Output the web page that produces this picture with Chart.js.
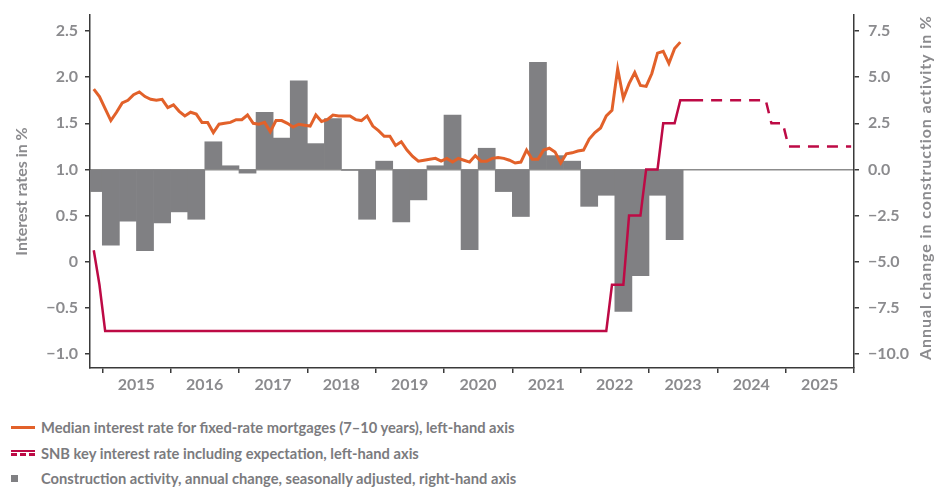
<!DOCTYPE html>
<html>
<head>
<meta charset="utf-8">
<title>Mortgage rates, SNB key rate and construction activity</title>
<script src="https://cdn.jsdelivr.net/npm/chart.js@4.4.0/dist/chart.umd.min.js"></script>
<style>
  html, body { margin: 0; padding: 0; background: #fff; }
  body { width: 947px; height: 488px; overflow: hidden; position: relative; font-family: Lato, sans-serif; }
  #chartBox { position: absolute; left: 0; top: 0; width: 947px; height: 400px; }
  .legend-row { position: absolute; left: 11px; height: 20px; display: flex; align-items: center;
                color: #7b7b7e; font-size: 14.7px; font-weight: 700; white-space: nowrap; }
  .icon { display: inline-block; width: 24px; margin-right: 6px; position: relative; }
  .icon-line { height: 3px; background: #e2612a; }
  .icon-snb { height: 7px; border-top: 2.5px solid #bd0a45; box-sizing: border-box; }
  .icon-snb::after { content: ""; position: absolute; left: 0; right: 0; top: 1.5px; height: 3px;
                     background: repeating-linear-gradient(to right, #bd0a45 0 6px, transparent 6px 9px); }
  .icon-square { width: 7px; height: 7px; background: #808083; margin-right: 23px; }
</style>
</head>
<body>
<div id="chartBox"><canvas id="mainChart" width="947" height="400"></canvas></div>
<div id="legend">
  <div class="legend-row" style="top:417px"><span class="icon icon-line"></span><span>Median interest rate for fixed-rate mortgages (7–10 years), left-hand axis</span></div>
  <div class="legend-row" style="top:443px"><span class="icon icon-snb"></span><span>SNB key interest rate including expectation, left-hand axis</span></div>
  <div class="legend-row" style="top:468px"><span class="icon icon-square"></span><span>Construction activity, annual change, seasonally adjusted, right-hand axis</span></div>
</div>
<script>
// Mortgage rate (monthly, left axis), first value = Nov 2014
const mortgageStart = '2014-11';
const mortgageRate = [
  1.87, 1.79, 1.66, 1.53, 1.62, 1.72, 1.75, 1.81, 1.84, 1.79, 1.76, 1.75,
  1.76, 1.67, 1.70, 1.63, 1.58, 1.62, 1.60, 1.51, 1.51, 1.40, 1.49, 1.50,
  1.51, 1.54, 1.54, 1.59, 1.50, 1.49, 1.51, 1.41, 1.53, 1.53, 1.50, 1.46,
  1.49, 1.48, 1.47, 1.59, 1.52, 1.54, 1.59, 1.58, 1.58, 1.58, 1.54, 1.53,
  1.58, 1.47, 1.42, 1.36, 1.36, 1.26, 1.30, 1.21, 1.14, 1.09, 1.10, 1.11,
  1.12, 1.09, 1.12, 1.08, 1.12, 1.10, 1.08, 1.15, 1.09, 1.09, 1.12, 1.13,
  1.12, 1.10, 1.07, 1.08, 1.21, 1.11, 1.11, 1.21, 1.23, 1.19, 1.07, 1.17,
  1.18, 1.20, 1.21, 1.33, 1.40, 1.45, 1.58, 1.64, 2.09, 1.77, 1.93, 2.05,
  1.91, 1.90, 2.04, 2.26, 2.28, 2.15, 2.31, 2.38
];

// SNB key rate (left axis): actual values at change points
const snbDates = ['2014-11', '2014-12', '2015-01', '2022-05', '2022-06', '2022-08', '2022-09',
                  '2022-11', '2022-12', '2023-02', '2023-03', '2023-05', '2023-06', '2023-10'];
const snbRate = [0.125, -0.25, -0.75, -0.75, -0.25, -0.25, 0.5, 0.5, 1.0, 1.0, 1.5, 1.5, 1.75, 1.75];

// SNB key rate expectation (dashed)
const snbExpDates = ['2023-10', '2024-09', '2024-10', '2024-12', '2025-01', '2025-12'];
const snbExpRate = [1.75, 1.75, 1.5, 1.5, 1.25, 1.25];

// Construction activity, annual change in % (quarterly, right axis)
const constructionQuarters = [
  '2014-Q4',
  '2015-Q1', '2015-Q2', '2015-Q3', '2015-Q4',
  '2016-Q1', '2016-Q2', '2016-Q3', '2016-Q4',
  '2017-Q1', '2017-Q2', '2017-Q3', '2017-Q4',
  '2018-Q1', '2018-Q2', '2018-Q3', '2018-Q4',
  '2019-Q1', '2019-Q2', '2019-Q3', '2019-Q4',
  '2020-Q1', '2020-Q2', '2020-Q3', '2020-Q4',
  '2021-Q1', '2021-Q2', '2021-Q3', '2021-Q4',
  '2022-Q1', '2022-Q2', '2022-Q3', '2022-Q4',
  '2023-Q1', '2023-Q2'
];
const constructionChange = [
  -1.2,
  -4.1, -2.8, -4.4, -2.9,
  -2.3, -2.7, 1.5, 0.2,
  -0.2, 3.1, 1.7, 4.8,
  1.4, 2.75, -0.05, -2.7,
  0.45, -2.85, -1.65, 0.2,
  2.95, -4.35, 1.15, -1.2,
  -2.55, 5.8, 0.75, 0.45,
  -2.0, -1.4, -7.7, -5.75,
  -1.4, -3.8
];

// Axis ticks
const yearTicks = [2015, 2016, 2017, 2018, 2019, 2020, 2021, 2022, 2023, 2024, 2025, 2026];
const leftTicks = [-1.0, -0.5, 0, 0.5, 1.0, 1.5, 2.0, 2.5];
const rightTicks = [-10.0, -7.5, -5.0, -2.5, 0, 2.5, 5.0, 7.5];

const ORANGE = '#e2612a';
const CRIMSON = '#bd0a45';
const BAR_GRAY = '#808083';
const TEXT_GRAY = '#8b8b8e';
const AXIS_DARK = '#3a3a3a';

document.addEventListener('DOMContentLoaded', function() {
  // month 'YYYY-MM' -> decimal year (mid month)
  function monthToX(s) {
    const parts = s.split('-');
    return Number(parts[0]) + (Number(parts[1]) - 0.5) / 12;
  }

  // quarter 'YYYY-Qn' -> decimal year (mid quarter)
  function quarterToX(s) {
    const parts = s.split('-Q');
    return Number(parts[0]) + (Number(parts[1]) - 0.5) / 4;
  }

  function fmtNum(v, digits) {
    const txt = Math.abs(v).toFixed(digits);
    return v < 0 ? '\u2212' + txt : txt;
  }

  // keep the plot area fixed: no extra label padding above/below the y axes
  function fixVertical(width) {
    return function(scale) {
      scale.width = width;
      scale.paddingTop = 0;
      scale.paddingBottom = 0;
    };
  }

  const startX = monthToX(mortgageStart);
  const mortgagePoints = mortgageRate.map((v, i) => ({ x: startX + i / 12, y: v }));
  const snbPoints = snbDates.map((d, i) => ({ x: monthToX(d), y: snbRate[i] }));
  const snbExpPoints = snbExpDates.map((d, i) => ({ x: monthToX(d), y: snbExpRate[i] }));
  const barPoints = constructionQuarters.map((q, i) => ({ x: quarterToX(q), y: constructionChange[i] }));

  const tickFont = { family: 'Lato, sans-serif', size: 16, weight: '700' };
  const titleFont = { family: 'Lato, sans-serif', size: 16, weight: '700' };

  // right axis title reads bottom-to-top like the left one
  const rightTitlePlugin = {
    id: 'rightTitle',
    afterDraw(chart) {
      const area = chart.chartArea;
      const c = chart.ctx;
      c.save();
      c.translate(926, (area.top + area.bottom) / 2 - 4);
      c.rotate(-Math.PI / 2);
      c.fillStyle = TEXT_GRAY;
      c.font = '700 16px Lato, sans-serif';
      if ('letterSpacing' in c) c.letterSpacing = '0.9px';
      c.textAlign = 'center';
      c.textBaseline = 'middle';
      c.fillText('Annual change in construction activity in %', 0, 0);
      c.restore();
    }
  };

  const ctx = document.getElementById('mainChart').getContext('2d');
  new Chart(ctx, {
    data: {
      datasets: [
        {
          type: 'line',
          label: 'Median interest rate for fixed-rate mortgages (7–10 years), left-hand axis',
          data: mortgagePoints,
          borderColor: ORANGE,
          borderWidth: 3,
          pointRadius: 0,
          tension: 0,
          yAxisID: 'y',
          order: 1
        },
        {
          type: 'line',
          label: 'SNB key interest rate, left-hand axis',
          data: snbPoints,
          borderColor: CRIMSON,
          borderWidth: 2.5,
          pointRadius: 0,
          yAxisID: 'y',
          order: 2
        },
        {
          type: 'line',
          label: 'SNB key interest rate expectation',
          data: snbExpPoints,
          borderColor: CRIMSON,
          borderWidth: 2.5,
          borderDash: [11, 8],
          borderDashOffset: 11,
          pointRadius: 0,
          yAxisID: 'y',
          order: 3
        },
        {
          type: 'bar',
          label: 'Construction activity, annual change, seasonally adjusted, right-hand axis',
          data: barPoints,
          backgroundColor: BAR_GRAY,
          borderWidth: 0,
          barPercentage: 1,
          categoryPercentage: 1,
          yAxisID: 'y2',
          order: 10
        }
      ]
    },
    options: {
      responsive: false,
      animation: false,
      layout: { padding: { top: 15, left: 0, right: 0, bottom: 0 } },
      plugins: {
        legend: { display: false },
        tooltip: { enabled: false }
      },
      scales: {
        x: {
          type: 'linear',
          offset: false,
          min: 2014.82,
          max: 2026,
          border: { color: AXIS_DARK, width: 1.5 },
          grid: { offset: false, drawOnChartArea: false, tickColor: AXIS_DARK, tickLength: 5, lineWidth: 1.5 },
          afterBuildTicks: function(scale) {
            scale.ticks = yearTicks.map(v => ({ value: v }));
          },
          ticks: {
            autoSkip: false,
            maxRotation: 0,
            labelOffset: 34,
            padding: 2,
            color: TEXT_GRAY,
            font: tickFont,
            callback: function(value) {
              return value < 2026 ? String(value) : '';
            }
          },
          afterFit: function(scale) { scale.height = 32; }
        },
        y: {
          position: 'left',
          min: -1.152,
          max: 2.674,
          border: { color: AXIS_DARK, width: 1.5 },
          grid: { drawOnChartArea: false, tickColor: AXIS_DARK, tickLength: 5, lineWidth: 1.5 },
          afterBuildTicks: function(scale) {
            scale.ticks = leftTicks.map(v => ({ value: v }));
          },
          ticks: {
            padding: 7,
            color: TEXT_GRAY,
            font: tickFont,
            callback: function(value) {
              return value === 0 ? '0' : fmtNum(value, 1);
            }
          },
          title: {
            display: true,
            text: 'Interest rates in %',
            color: TEXT_GRAY,
            font: titleFont,
            padding: { top: 12, bottom: 0 }
          },
          afterFit: fixVertical(90)
        },
        y2: {
          position: 'right',
          min: -10.76,
          max: 8.37,
          border: { color: AXIS_DARK, width: 1.5 },
          grid: {
            drawOnChartArea: true,
            color: function(c) { return c.tick && c.tick.value === 0 ? '#8c8c8c' : 'rgba(0,0,0,0)'; },
            lineWidth: 1.5,
            tickColor: AXIS_DARK,
            tickLength: 5
          },
          afterBuildTicks: function(scale) {
            scale.ticks = rightTicks.map(v => ({ value: v }));
          },
          ticks: {
            padding: 9,
            color: TEXT_GRAY,
            font: tickFont,
            callback: function(value) { return fmtNum(value, 1); }
          },
          afterFit: fixVertical(93)
        }
      }
    },
    plugins: [rightTitlePlugin]
  });
});
</script>
</body>
</html>
